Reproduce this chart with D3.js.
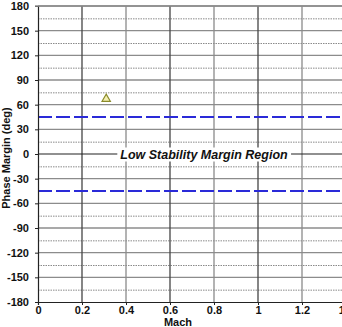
<!DOCTYPE html>
<html>
<head>
<meta charset="utf-8">
<script src="https://cdn.jsdelivr.net/npm/d3@7"></script>
<style>
  html, body { margin: 0; padding: 0; background: #fff; }
  svg { display: block; }
  text { font-family: "Liberation Sans", Arial, sans-serif; font-weight: bold; }
</style>
</head>
<body>
<script>
// Axis ticks
const xTicks = [0, 0.2, 0.4, 0.6, 0.8, 1, 1.2, 1.4];
const yTicks = [180, 150, 120, 90, 60, 30, 0, -30, -60, -90, -120, -150, -180];
const yMinor = [165, 135, 105, 75, 15, -15, -75, -105, -135, -165];
// Stability margin boundaries (deg)
const marginBounds = [45, -45];
// Measured point
const pointMach = [0.31];
const pointPhase = [67];

const W = 342, H = 327;
const svg = d3.select("body").append("svg").attr("width", W).attr("height", H);

const x = d3.scaleLinear().domain([0, 1.4]).range([38, 346]);
const y = d3.scaleLinear().domain([-180, 180]).range([302, 6]);

const g = svg.append("g");

// minor dotted grid
g.selectAll(".minor").data(yMinor).join("line")
  .attr("x1", x(0)).attr("x2", W)
  .attr("y1", d => y(d) + 0.5).attr("y2", d => y(d) + 0.5)
  .attr("stroke", "#8a8a8a").attr("stroke-width", 1).attr("stroke-dasharray", "1.5,1");

// major horizontal grid
g.selectAll(".major").data(yTicks.filter(d => d !== 0 && d !== -180)).join("line")
  .attr("x1", x(0)).attr("x2", W)
  .attr("y1", d => y(d)).attr("y2", d => y(d))
  .attr("stroke", "#8c8c8c").attr("stroke-width", 1.4);

// vertical grid
g.selectAll(".vgrid").data(xTicks.filter(d => d > 0)).join("line")
  .attr("x1", d => x(d)).attr("x2", d => x(d))
  .attr("y1", y(180)).attr("y2", y(-180))
  .attr("stroke", (d, i) => i % 2 === 0 ? "#444" : "#8a8a8a").attr("stroke-width", 1.3);

// stability margin boundaries
g.selectAll(".bound").data(marginBounds).join("line")
  .attr("x1", x(0)).attr("x2", W)
  .attr("y1", d => y(d)).attr("y2", d => y(d))
  .attr("stroke", "#2a2ad8").attr("stroke-width", 2).attr("stroke-dasharray", "14,4");

// zero line with region label
g.append("line")
  .attr("x1", x(0)).attr("x2", W)
  .attr("y1", y(0)).attr("y2", y(0))
  .attr("stroke", "#222").attr("stroke-width", 1.2);

const lbl = g.append("text")
  .attr("x", 204).attr("y", y(0) + 4.5)
  .attr("text-anchor", "middle")
  .attr("font-size", 12.5).attr("font-style", "italic")
  .attr("fill", "#111")
  .text("Low Stability Margin Region");
const bb = lbl.node().getBBox();
g.insert("rect", "text")
  .attr("x", bb.x - 3).attr("y", bb.y).attr("width", bb.width + 6).attr("height", bb.height)
  .attr("fill", "#fff");

// axes
const fmt = d => String(d);
const yAxis = d3.axisLeft(y).tickValues(yTicks).tickSize(3).tickPadding(6).tickFormat(fmt);
const gy = svg.append("g").attr("transform", `translate(${x(0)},0)`).call(yAxis);
gy.select(".domain").attr("stroke", "#222").attr("stroke-width", 1.2);
gy.selectAll(".tick line").attr("stroke", "#222");
gy.selectAll(".tick text").attr("font-size", 11).attr("font-weight", "bold")
  .attr("font-family", "Liberation Sans, Arial, sans-serif").attr("fill", "#111");

const xAxis = d3.axisBottom(x).tickValues(xTicks).tickSize(3).tickPadding(1).tickFormat(fmt);
const gx = svg.append("g").attr("transform", `translate(0,${y(-180)})`).call(xAxis);
gx.select(".domain").attr("stroke", "#222").attr("stroke-width", 1.2);
gx.selectAll(".tick line").attr("stroke", "#222");
gx.selectAll(".tick text").attr("font-size", 11).attr("font-weight", "bold")
  .attr("font-family", "Liberation Sans, Arial, sans-serif").attr("fill", "#111");

// top border line
svg.append("line").attr("x1", x(0) - 3).attr("x2", W)
  .attr("y1", y(180)).attr("y2", y(180))
  .attr("stroke", "#8c8c8c").attr("stroke-width", 1.4);

// axis titles
svg.append("text")
  .attr("x", 178).attr("y", 326)
  .attr("text-anchor", "middle").attr("font-size", 11).attr("fill", "#111")
  .text("Mach");
svg.append("text")
  .attr("transform", `translate(10,158) rotate(-90)`)
  .attr("text-anchor", "middle").attr("font-size", 11).attr("font-weight", "normal").attr("fill", "#111")
  .text("Phase Margin (deg)");

// measured point
const tri = d3.symbol().type(d3.symbolTriangle).size(30);
svg.selectAll(".pt").data(pointMach).join("path")
  .attr("d", tri)
  .attr("transform", (d, i) => `translate(${x(d)},${y(pointPhase[i])})`)
  .attr("fill", "#f4f0b0").attr("stroke", "#8a8a2a").attr("stroke-width", 1.2);
</script>
</body>
</html>
